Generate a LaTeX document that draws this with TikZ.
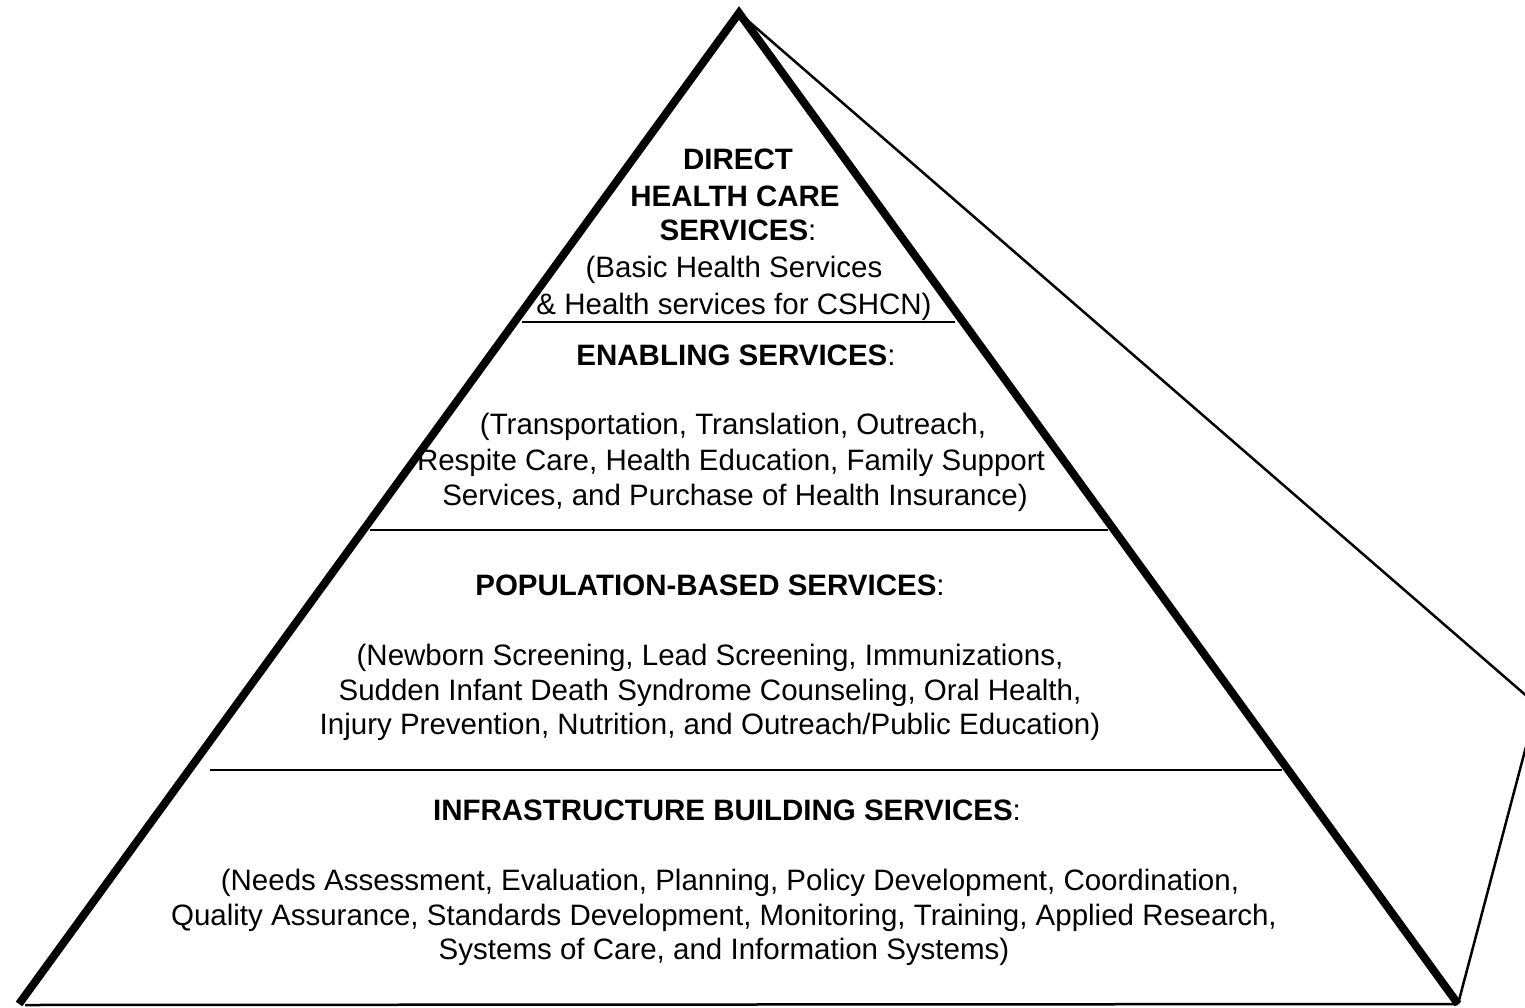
\documentclass[tikz,border=0pt]{standalone}
\usepackage{fontspec}
\setmainfont{Liberation Sans}
\begin{document}
\begin{tikzpicture}[x=1pt,y=-1pt,
  txt/.style={inner sep=0pt, anchor=base, font=\fontsize{29.5}{35}\selectfont},
  thick edge/.style={line width=8pt, line join=miter},
  thin edge/.style={line width=2.5pt},
  divider/.style={line width=2.5pt}]
\useasboundingbox (0,0) rectangle (1525,1008);
\clip (0,0) rectangle (1525,1008);
% corners
\coordinate (apex) at (739,13);
\coordinate (bl) at (19,1004);
\coordinate (br) at (1458,1004);
\coordinate (back) at (1537,705);
\coordinate (baseL) at (25,1005);
% dividers
\coordinate (d1l) at (522,322); \coordinate (d1r) at (955,322);
\coordinate (d2l) at (370,530); \coordinate (d2r) at (1108,530);
\coordinate (d3l) at (210,770); \coordinate (d3r) at (1282,770);
\draw[divider] (d1l) -- (d1r);
\draw[divider] (d2l) -- (d2r);
\draw[divider] (d3l) -- (d3r);
% side face
\draw[thin edge, line join=miter] (apex) -- (back) -- (br);
\draw[thin edge] (baseL) -- (br);
% pyramid front edges
\draw[thick edge] (bl) -- (apex) -- (br);
% texts
\node[txt] (t1) at (738,170) {\bfseries DIRECT};
\node[txt] (t2) at (735,206.5) {\bfseries HEALTH CARE};
\node[txt] (t3) at (738,241) {\textbf{SERVICES}:};
\node[txt] (t4) at (734,277) {(Basic Health Services};
\node[txt] (t5) at (734,314) {\& Health services for CSHCN)};
\node[txt] (e1) at (736,365) {\textbf{ENABLING SERVICES}:};
\node[txt] (e2) at (733,434) {(Transportation, Translation, Outreach,};
\node[txt] (e3) at (731,470) {Respite Care, Health Education, Family Support};
\node[txt] (e4) at (735,505) {Services, and Purchase of Health Insurance)};
\node[txt] (p1) at (710,595) {\textbf{POPULATION-BASED SERVICES}:};
\node[txt] (p2) at (710,665) {(Newborn Screening, Lead Screening, Immunizations,};
\node[txt] (p3) at (710,700) {Sudden Infant Death Syndrome Counseling, Oral Health,};
\node[txt] (p4) at (710,734) {Injury Prevention, Nutrition, and Outreach/Public Education)};
\node[txt] (i1) at (727,820) {\textbf{INFRASTRUCTURE BUILDING SERVICES}:};
\node[txt] (i2) at (730,890) {(Needs Assessment, Evaluation, Planning, Policy Development, Coordination,};
\node[txt] (i3) at (724,925) {Quality Assurance, Standards Development, Monitoring, Training, Applied Research,};
\node[txt] (i4) at (724,959) {Systems of Care, and Information Systems)};
\end{tikzpicture}
\end{document}
